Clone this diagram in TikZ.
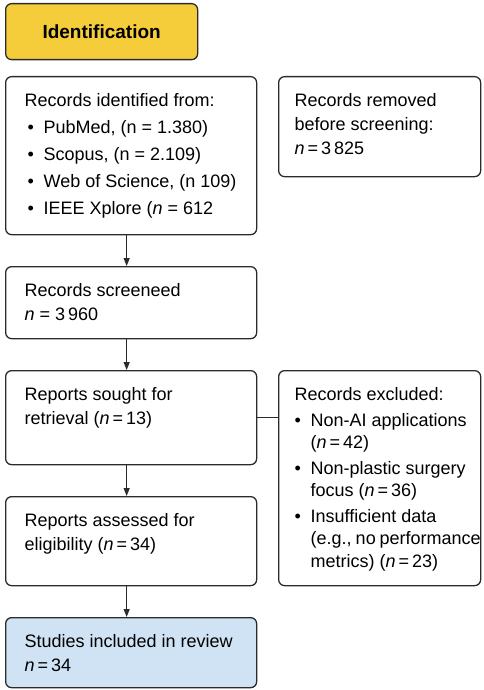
\documentclass[tikz,border=0pt]{standalone}
\usepackage{fontspec}
\setmainfont{Liberation Sans}
\usepackage{tikz}
\usetikzlibrary{arrows.meta,positioning}

\definecolor{idyellow}{HTML}{F5CD3A}
\definecolor{inclblue}{HTML}{D0E3F5}
\definecolor{edgegray}{HTML}{2B2B2B}

\newcommand{\lcol}[2]{\hspace*{19pt}\parbox[t][#1][t]{232pt}{#2}}
\newcommand{\rcol}[2]{\hspace*{16pt}\parbox[t][#1][t]{186pt}{#2}}
\newcommand{\bitem}[1]{\par\vspace{3pt}\hangindent=#1\hangafter=1\noindent\makebox[#1][l]{\hspace{\dimexpr#1-16pt\relax}\textbullet}}

\begin{document}
\begin{tikzpicture}[x=1pt, y=-1pt,
  every node/.style={font=\fontsize{18}{24}\selectfont},
  box/.style={draw=edgegray, line width=1.3pt, rounded corners=6pt, fill=white,
    inner xsep=0pt, inner ysep=17pt, anchor=north west},
  phase/.style={box, fill=idyellow, minimum width=192pt, minimum height=56pt,
    inner sep=0pt, font=\fontsize{19}{24}\selectfont\bfseries},
  flow/.style={draw=edgegray, line width=1.2pt, -{Triangle[length=8pt,width=6pt]}}]

\useasboundingbox (0,0) rectangle (484,690);

\node[phase] (ident) at (5,3) {Identification};

% Colonna sinistra
\node[box] (recid) at (5,76) {\lcol{124pt}{Records identified from:
  \bitem{19pt}PubMed, (n = 1.380)
  \bitem{19pt}Scopus, (n = 2.109)
  \bitem{19pt}Web of Science, (n 109)
  \bitem{19pt}IEEE Xplore (\textit{n} = 612}};
\node[box] (screened) at (5,266) {\lcol{38pt}{Records screeneed\\\textit{n} = 3\,960}};
\node[box] (sought) at (5,370) {\lcol{60pt}{Reports sought for\\retrieval (\textit{n}\,=\,13)}};
\node[box] (assessed) at (5,496) {\lcol{55pt}{Reports assessed for\\eligibility (\textit{n}\,=\,34)}};
\node[box, fill=inclblue] (included) at (5,617) {\lcol{36pt}{Studies included in review\\\textit{n}\,=\,34}};

% Colonna destra
\node[box] (removed) at (278,76) {\rcol{66pt}{Records removed\\before screening:\\\textit{n}\,=\,3\,825}};
\node[box] (excluded) at (278,370) {\rcol{181pt}{\fontsize{18}{22.5}\selectfont Records excluded:
  \bitem{16pt}Non-AI applications\\(\textit{n}\,=\,42)
  \bitem{16pt}Non-plastic surgery\\focus (\textit{n}\,=\,36)
  \bitem{16pt}Insufficient data\\(e.g., no~performance\\metrics) (\textit{n}\,=\,23)}};

% Frecce
\draw[flow] ([xshift=-4.5pt]recid.south) -- ([xshift=-4.5pt]screened.north);
\draw[flow] ([xshift=-4.5pt]screened.south) -- ([xshift=-4.5pt]sought.north);
\draw[flow] ([xshift=-4.5pt]sought.south) -- ([xshift=-4.5pt]assessed.north);
\draw[flow] ([xshift=-4.5pt]assessed.south) -- ([xshift=-4.5pt]included.north);
\draw[draw=edgegray, line width=1.2pt] (sought.east) -- (sought.east -| excluded.west);

\end{tikzpicture}
\end{document}
